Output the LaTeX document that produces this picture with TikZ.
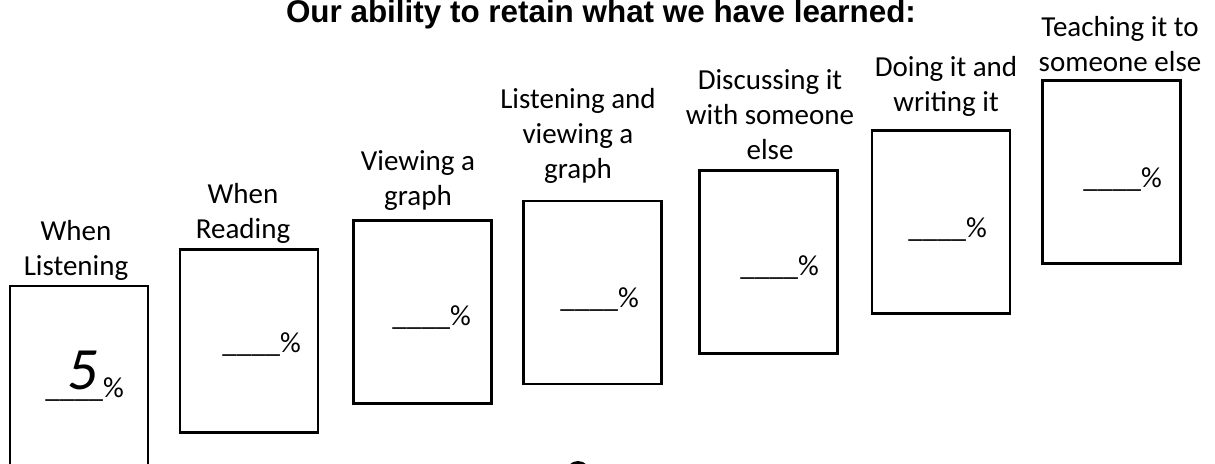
\documentclass[tikz,border=0pt]{standalone}
\usepackage{fontspec}
\setmainfont{Carlito}
\newfontfamily\titlefont{Liberation Sans}
\usepackage{tikz}

\tikzset{
    answerbox/.style={draw, line width=1.3pt, minimum width=69pt, minimum height=91.5pt, inner sep=0pt},
    steplabel/.style={align=center, inner sep=0pt, anchor=base, font=\fontsize{14.5}{17.5}\selectfont},
    blank/.style={inner sep=0pt, anchor=base west, font=\fontsize{14.5}{17}\selectfont},
}

\begin{document}
\begin{tikzpicture}[x=0.5pt, y=-0.5pt]
    \useasboundingbox (0, 0) rectangle (1215, 464);

    \node [anchor=base, inner sep=0pt, font=\titlefont\bfseries\fontsize{15.7}{18}\selectfont] (title) at (601, 23){Our ability to retain what we have learned:};

    % the seven boxes, climbing to the right
    \node [answerbox] (boxA) at (79, 377.5){};
    \node [answerbox] (boxB) at (249, 341){};
    \node [answerbox] (boxC) at (422.5, 312){};
    \node [answerbox] (boxD) at (592.5, 292.5){};
    \node [answerbox] (boxE) at (768.5, 262){};
    \node [answerbox] (boxF) at (941, 222){};
    \node [answerbox] (boxG) at (1111.5, 172){};

    \node [steplabel] (labA) at (76, 276){When\\Listening};
    \node [steplabel] (labB) at (243, 239){When\\Reading};
    \node [steplabel] (labC) at (418, 206){Viewing a\\graph};
    \node [steplabel] (labD) at (578, 179){Listening and\\viewing a\\graph};
    \node [steplabel] (labE) at (770, 160){Discussing it\\with someone\\else};
    \node [steplabel] (labF) at (946, 112){Doing it and\\writing it};
    \node [steplabel] (labG) at (1120, 72){Teaching it to\\someone else};

    % the first blank is already filled in
    \node [blank] (pctA) at (45, 398){\_\_\makebox[0pt]{\hspace{8.5pt}\raisebox{4pt}{\fontsize{30}{30}\selectfont\itshape 5}}\_\_\%};
    \node [blank] (pctB) at (222, 353){\_\_\_\_\%};
    \node [blank] (pctC) at (392, 326){\_\_\_\_\%};
    \node [blank] (pctD) at (560, 308){\_\_\_\_\%};
    \node [blank] (pctE) at (740, 276){\_\_\_\_\%};
    \node [blank] (pctF) at (908, 238){\_\_\_\_\%};
    \node [blank] (pctG) at (1083, 188){\_\_\_\_\%};

    \fill (578, 473) circle [radius=6pt];
\end{tikzpicture}
\end{document}
